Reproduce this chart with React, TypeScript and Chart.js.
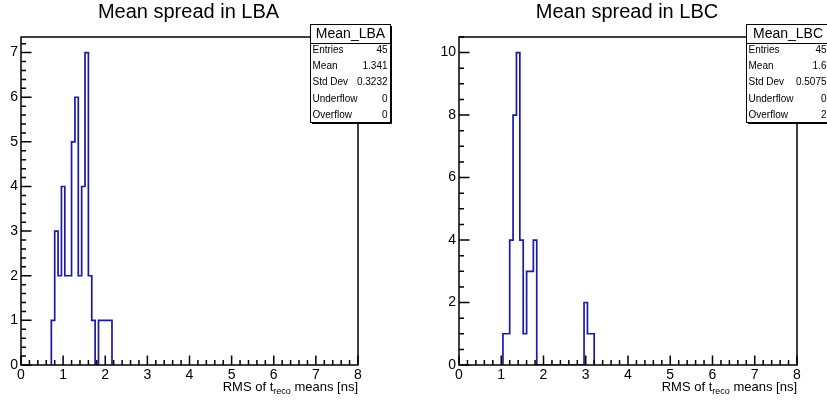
import React, { useEffect, useRef } from "react";
import { Chart, registerables } from "chart.js";
Chart.register(...registerables);

// ---- data ----
const X_MIN = 0;
const X_MAX = 8;
const N_BINS = 100;
const xTickValues = [0, 1, 2, 3, 4, 5, 6, 7, 8];

// LBA histogram: counts of consecutive bins starting at bin index lbaFirstBin
const lbaFirstBin = 9; // lower edge 0.72
const lbaCounts = [1, 3, 2, 4, 2, 2, 5, 6, 2, 4, 7, 2, 1, 0, 1, 1, 1, 1];
const lbaStatLabels = ["Entries", "Mean", "Std Dev", "Underflow", "Overflow"];
const lbaStatValues = ["45", "1.341", "0.3232", "0", "0"];

// LBC histogram
const lbcFirstBin = 13; // lower edge 1.04
const lbcCounts = [1, 1, 4, 8, 10, 4, 1, 3, 3, 4, 0, 0, 0, 0, 0, 0, 0, 0, 0, 0, 0, 0, 0, 0, 2, 1, 1];
const lbcStatLabels = ["Entries", "Mean", "Std Dev", "Underflow", "Overflow"];
const lbcStatValues = ["45", "1.6", "0.5075", "0", "2"];

const FONT = "'Liberation Sans', Arial, Helvetica, sans-serif";
const LINE_COLOR = "#1a1aa6";

type Panel = {
  title: string;
  statName: string;
  statLabels: string[];
  statValues: string[];
  firstBin: number;
  counts: number[];
  yMax: number;
  yStep: number;
  yMinor: number;
  left: number;
  width: number;
  yAxisWidth: number;
  padRight: number;
  box: { x: number; y: number; w: number; h: number };
};

const panels: Panel[] = [
  {
    title: "Mean spread in LBA",
    statName: "Mean_LBA",
    statLabels: lbaStatLabels,
    statValues: lbaStatValues,
    firstBin: lbaFirstBin,
    counts: lbaCounts,
    yMax: 7.35,
    yStep: 1,
    yMinor: 0.2,
    left: 0,
    width: 413,
    yAxisWidth: 21,
    padRight: 55,
    box: { x: 310, y: 24, w: 80, h: 98 },
  },
  {
    title: "Mean spread in LBC",
    statName: "Mean_LBC",
    statLabels: lbcStatLabels,
    statValues: lbcStatValues,
    firstBin: lbcFirstBin,
    counts: lbcCounts,
    yMax: 10.5,
    yStep: 2,
    yMinor: 0.5,
    left: 413,
    width: 414,
    yAxisWidth: 46,
    padRight: 30,
    box: { x: 333, y: 24, w: 83, h: 98 },
  },
];

function histPoints(firstBin: number, counts: number[]) {
  const w = (X_MAX - X_MIN) / N_BINS;
  const edge = (i: number) => X_MIN + (firstBin + i) * w;
  const pts: { x: number; y: number }[] = [{ x: edge(0), y: 0 }];
  counts.forEach((c, i) => pts.push({ x: edge(i), y: c }));
  pts.push({ x: edge(counts.length), y: 0 });
  return pts;
}

function makeDecor(p: Panel) {
  return {
    id: "rootDecor",
    afterDatasetsDraw(chart: any) {
      const { ctx, chartArea: a, scales } = chart;
      const xs = scales.x;
      const ys = scales.y;
      ctx.save();
      ctx.strokeStyle = "#000";
      ctx.lineWidth = 1.5;
      ctx.strokeRect(a.left, a.top, a.right - a.left, a.bottom - a.top);
      // x ticks (inward)
      ctx.beginPath();
      for (let v = X_MIN; v <= X_MAX + 1e-9; v += 0.2) {
        const px = xs.getPixelForValue(v);
        const major = Math.abs(v - Math.round(v)) < 1e-6;
        const len = major ? 9.5 : 5;
        ctx.moveTo(px, a.bottom);
        ctx.lineTo(px, a.bottom - len);
      }
      // y ticks
      for (let v = 0; v <= p.yMax + 1e-9; v += p.yMinor) {
        const py = ys.getPixelForValue(v);
        const major = Math.abs(v / p.yStep - Math.round(v / p.yStep)) < 1e-6;
        const len = major ? 10.5 : 5;
        ctx.moveTo(a.left, py);
        ctx.lineTo(a.left + len, py);
      }
      ctx.stroke();

      // title
      ctx.fillStyle = "#000";
      ctx.font = `20px ${FONT}`;
      ctx.textAlign = "center";
      ctx.textBaseline = "alphabetic";
      ctx.fillText(p.title, (a.left + a.right) / 2 - 1, 18);

      // x-axis title with subscript
      const big = `13px ${FONT}`;
      const small = `9px ${FONT}`;
      const s1 = "RMS of t";
      const s2 = "reco";
      const s3 = " means [ns]";
      ctx.font = big;
      const w1 = ctx.measureText(s1).width;
      const w3 = ctx.measureText(s3).width;
      ctx.font = small;
      const w2 = ctx.measureText(s2).width;
      let x0 = a.right - (w1 + w2 + w3);
      const base = 390.5;
      ctx.textAlign = "left";
      ctx.font = big;
      ctx.fillText(s1, x0, base);
      ctx.font = small;
      ctx.fillText(s2, x0 + w1, base + 3.5);
      ctx.font = big;
      ctx.fillText(s3, x0 + w1 + w2, base);
      ctx.restore();
    },
    afterDraw(chart: any) {
      const { ctx } = chart;
      const b = p.box;
      ctx.save();
      ctx.fillStyle = "#fff";
      ctx.fillRect(b.x, b.y, b.w, b.h);
      ctx.strokeStyle = "#000";
      ctx.lineWidth = 1;
      ctx.strokeRect(b.x + 0.5, b.y + 0.5, b.w, b.h);
      ctx.beginPath();
      ctx.moveTo(b.x + b.w + 1.5, b.y + 2);
      ctx.lineTo(b.x + b.w + 1.5, b.y + b.h + 1.5);
      ctx.lineTo(b.x + 2, b.y + b.h + 1.5);
      ctx.stroke();
      // header separator
      const headH = 19;
      ctx.beginPath();
      ctx.moveTo(b.x, b.y + headH + 0.5);
      ctx.lineTo(b.x + b.w, b.y + headH + 0.5);
      ctx.stroke();
      ctx.fillStyle = "#000";
      ctx.font = `14px ${FONT}`;
      ctx.textAlign = "center";
      ctx.textBaseline = "middle";
      ctx.fillText(p.statName, b.x + b.w / 2 + 0.5, b.y + headH / 2 + 1);
      ctx.font = `10px ${FONT}`;
      p.statLabels.forEach((lab, i) => {
        const cy = b.y + 26 + i * 16.3;
        ctx.textAlign = "left";
        ctx.fillText(lab, b.x + 2.5, cy);
        ctx.textAlign = "right";
        ctx.fillText(p.statValues[i], b.x + b.w - 2.5, cy);
      });
      ctx.restore();
    },
  };
}

function HistPanel({ p }: { p: Panel }) {
  const ref = useRef<HTMLCanvasElement | null>(null);
  useEffect(() => {
    if (!ref.current) return;
    const chart = new Chart(ref.current, {
      type: "line",
      data: {
        datasets: [
          {
            data: histPoints(p.firstBin, p.counts),
            stepped: "before",
            borderColor: LINE_COLOR,
            borderWidth: 1.7,
            pointRadius: 0,
            fill: false,
            tension: 0,
          },
        ],
      },
      options: {
        responsive: false,
        animation: false,
        events: [],
        layout: { padding: { left: 0, top: 37, right: p.padRight, bottom: 0 } },
        plugins: { legend: { display: false }, tooltip: { enabled: false }, title: { display: false } },
        scales: {
          x: {
            type: "linear",
            min: X_MIN,
            max: X_MAX,
            grid: { display: false, drawTicks: false },
            border: { display: false },
            afterBuildTicks: (s: any) => {
              s.ticks = xTickValues.map((v) => ({ value: v }));
            },
            ticks: {
              autoSkip: false,
              maxRotation: 0,
              padding: 2,
              color: "#000",
              font: { family: FONT, size: 14 },
            },
            afterFit: (s: any) => {
              s.height = 40;
              s.paddingLeft = 0;
              s.paddingRight = 0;
            },
          },
          y: {
            type: "linear",
            min: 0,
            max: p.yMax,
            grid: { display: false, drawTicks: false },
            border: { display: false },
            ticks: {
              stepSize: p.yStep,
              includeBounds: false,
              autoSkip: false,
              padding: 3,
              color: "#000",
              font: { family: FONT, size: 14 },
            },
            afterFit: (s: any) => {
              s.width = p.yAxisWidth;
              s.paddingTop = 0;
              s.paddingBottom = 0;
            },
          },
        },
      },
      plugins: [makeDecor(p)],
    } as any);
    return () => chart.destroy();
  }, [p]);
  return (
    <div style={{ position: "absolute", left: p.left, top: 0, width: p.width, height: 405 }}>
      <canvas ref={ref} width={p.width} height={405} style={{ width: p.width, height: 405, display: "block" }} />
    </div>
  );
}

export default function App() {
  return (
    <div style={{ position: "fixed", left: 0, top: 0, width: 827, height: 405, background: "#fff", overflow: "hidden" }}>
      {panels.map((p) => (
        <HistPanel key={p.statName} p={p} />
      ))}
    </div>
  );
}
